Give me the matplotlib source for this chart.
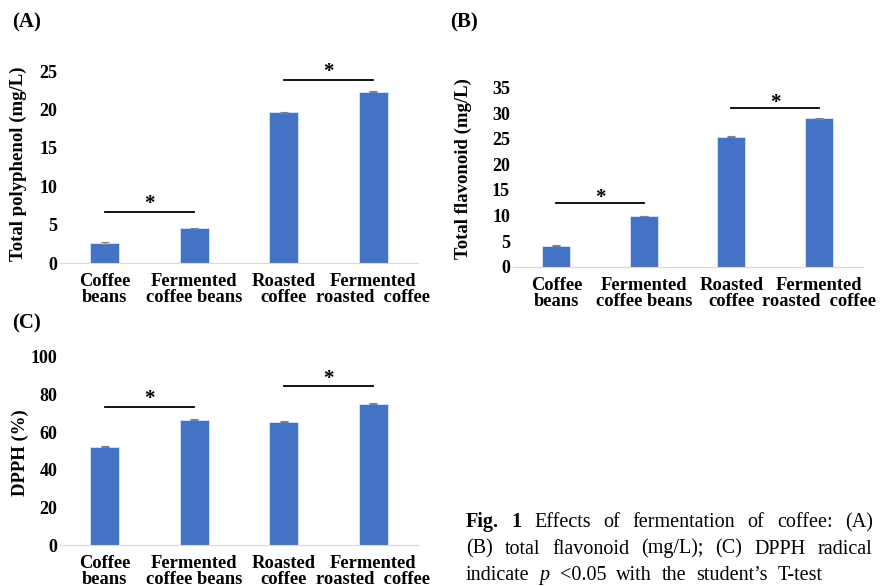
import matplotlib.pyplot as plt
import numpy as np

plt.rcParams['font.family'] = ['Liberation Serif', 'DejaVu Serif']
plt.rcParams['font.weight'] = 'bold'

W, H = 885, 586

# dados
categorias = ['Coffee\nbeans', 'Fermented\ncoffee beans', 'Roasted\ncoffee', 'Fermented\nroasted  coffee']
polifenol = [2.6, 4.5, 19.6, 22.3]
polifenol_err = [0.12, 0.06, 0.06, 0.08]
flavonoide = [4.1, 9.9, 25.4, 29.0]
flavonoide_err = [0.06, 0.08, 0.08, 0.08]
dpph = [52.2, 66.4, 65.4, 75.0]
dpph_err = [0.25, 0.25, 0.2, 0.25]

# linhas de significancia: (i, j, altura)
sig_a = [(0, 1, 6.6), (2, 3, 23.8)]
sig_b = [(0, 1, 12.5), (2, 3, 31.05)]
sig_c = [(0, 1, 73.4), (2, 3, 84.4)]

azul = '#4472C4'

fig = plt.figure(figsize=(W / 100, H / 100), dpi=100)


def painel(rect, valores, erros, sig, ymax, passo, ylabel, label_xy, sig_off):
    ax = fig.add_axes(rect)
    x = np.arange(len(valores))
    ax.bar(x, valores, width=0.32, color=azul, edgecolor='#dce6f4', linewidth=0.6,
           yerr=erros, error_kw=dict(ecolor='#7f7f7f', capsize=3, elinewidth=0.8, capthick=0.8))
    ax.set_xlim(-0.5, len(valores) - 0.5)
    ax.set_ylim(0, ymax)
    ax.set_yticks(np.arange(0, ymax + 0.1, passo))
    ax.set_xticks(x)
    ax.set_xticklabels(categorias, fontsize=13.3, fontweight='bold', linespacing=0.9)
    ax.tick_params(axis='both', length=0)
    ax.tick_params(axis='y', labelsize=13, pad=2)
    ax.tick_params(axis='x', pad=7.5)
    for s in ['top', 'right', 'left']:
        ax.spines[s].set_visible(False)
    ax.spines['bottom'].set_color('#d9d9d9')
    ax.set_ylabel(ylabel, fontsize=13.5, fontweight='bold', va='center')
    ax.yaxis.set_label_coords(*label_xy)
    for i, j, h in sig:
        ax.plot([x[i], x[j]], [h, h], color='black', linewidth=1.3, clip_on=False)
        ax.annotate('*', xy=((x[i] + x[j]) / 2, h), xytext=(0, sig_off), textcoords='offset points',
                    ha='center', va='baseline', fontsize=15, fontweight='bold', annotation_clip=False)
    return ax


axA = painel([60 / W, 1 - 263 / H, 358 / W, 192 / H], polifenol, polifenol_err, sig_a, 25, 5,
             'Total polyphenol (mg/L)', (-0.117, 0.516), 2.5)
axB = painel([512.7 / W, 1 - 266.7 / H, 350 / W, 179 / H], flavonoide, flavonoide_err, sig_b, 35, 5,
             'Total flavonoid (mg/L)', (-0.142, 0.55), 0)
axC = painel([60 / W, 1 - 545 / H, 358 / W, 188.3 / H], dpph, dpph_err, sig_c, 100, 20,
             'DPPH (%)', (-0.112, 0.49), 1.8)

fig.text(12 / W, 1 - 22 / H, '(A)', fontsize=15, fontweight='bold', va='center')
fig.text(450 / W, 1 - 22 / H, '(B)', fontsize=15, fontweight='bold', va='center')
fig.text(12 / W, 1 - 323 / H, '(C)', fontsize=15, fontweight='bold', va='center')

# legenda da figura, justificada e cortada na borda como no original
linha1 = [('Fig.', 'bold', 'normal'), ('1', 'bold', 'normal'), ('Effects', 'normal', 'normal'),
          ('of', 'normal', 'normal'), ('fermentation', 'normal', 'normal'), ('of', 'normal', 'normal'),
          ('coffee:', 'normal', 'normal'), ('(A)', 'normal', 'normal'), ('Total', 'normal', 'normal'),
          ('polyphenol', 'normal', 'normal'), ('(mg/L);', 'normal', 'normal')]
linha2 = [('(B)', 'normal', 'normal'), ('total', 'normal', 'normal'), ('flavonoid', 'normal', 'normal'),
          ('(mg/L);', 'normal', 'normal'), ('(C)', 'normal', 'normal'), ('DPPH', 'normal', 'normal'),
          ('radical', 'normal', 'normal'), ('scavenging', 'normal', 'normal'), ('activity', 'normal', 'normal')]
linha3 = [('indicate', 'normal', 'normal'), ('p', 'normal', 'italic'), ('<0.05', 'normal', 'normal'),
          ('with', 'normal', 'normal'), ('the', 'normal', 'normal'), ('student’s', 'normal', 'normal'),
          ('T-test', 'normal', 'normal')]

renderer = fig.canvas.get_renderer()
x_ini = 466


def escreve(palavras, y, x_fim, n_fim):
    # as primeiras n_fim palavras terminam em x_fim (texto justificado)
    textos = []
    for txt, peso, estilo in palavras:
        t = fig.text(0, 1 - y / H, txt, fontsize=14.5, fontweight=peso, style=estilo, va='baseline')
        textos.append(t)
    larg = [t.get_window_extent(renderer).width for t in textos]
    gap = (x_fim - x_ini - sum(larg[:n_fim])) / (n_fim - 1)
    x = x_ini
    for t, w in zip(textos, larg):
        t.set_x(x / W)
        x += w + gap


escreve(linha1, 527, 873, 8)
escreve(linha2, 553.5, 872, 7)
escreve(linha3, 580, 823, 7)

plt.savefig('out.png', dpi=100)
